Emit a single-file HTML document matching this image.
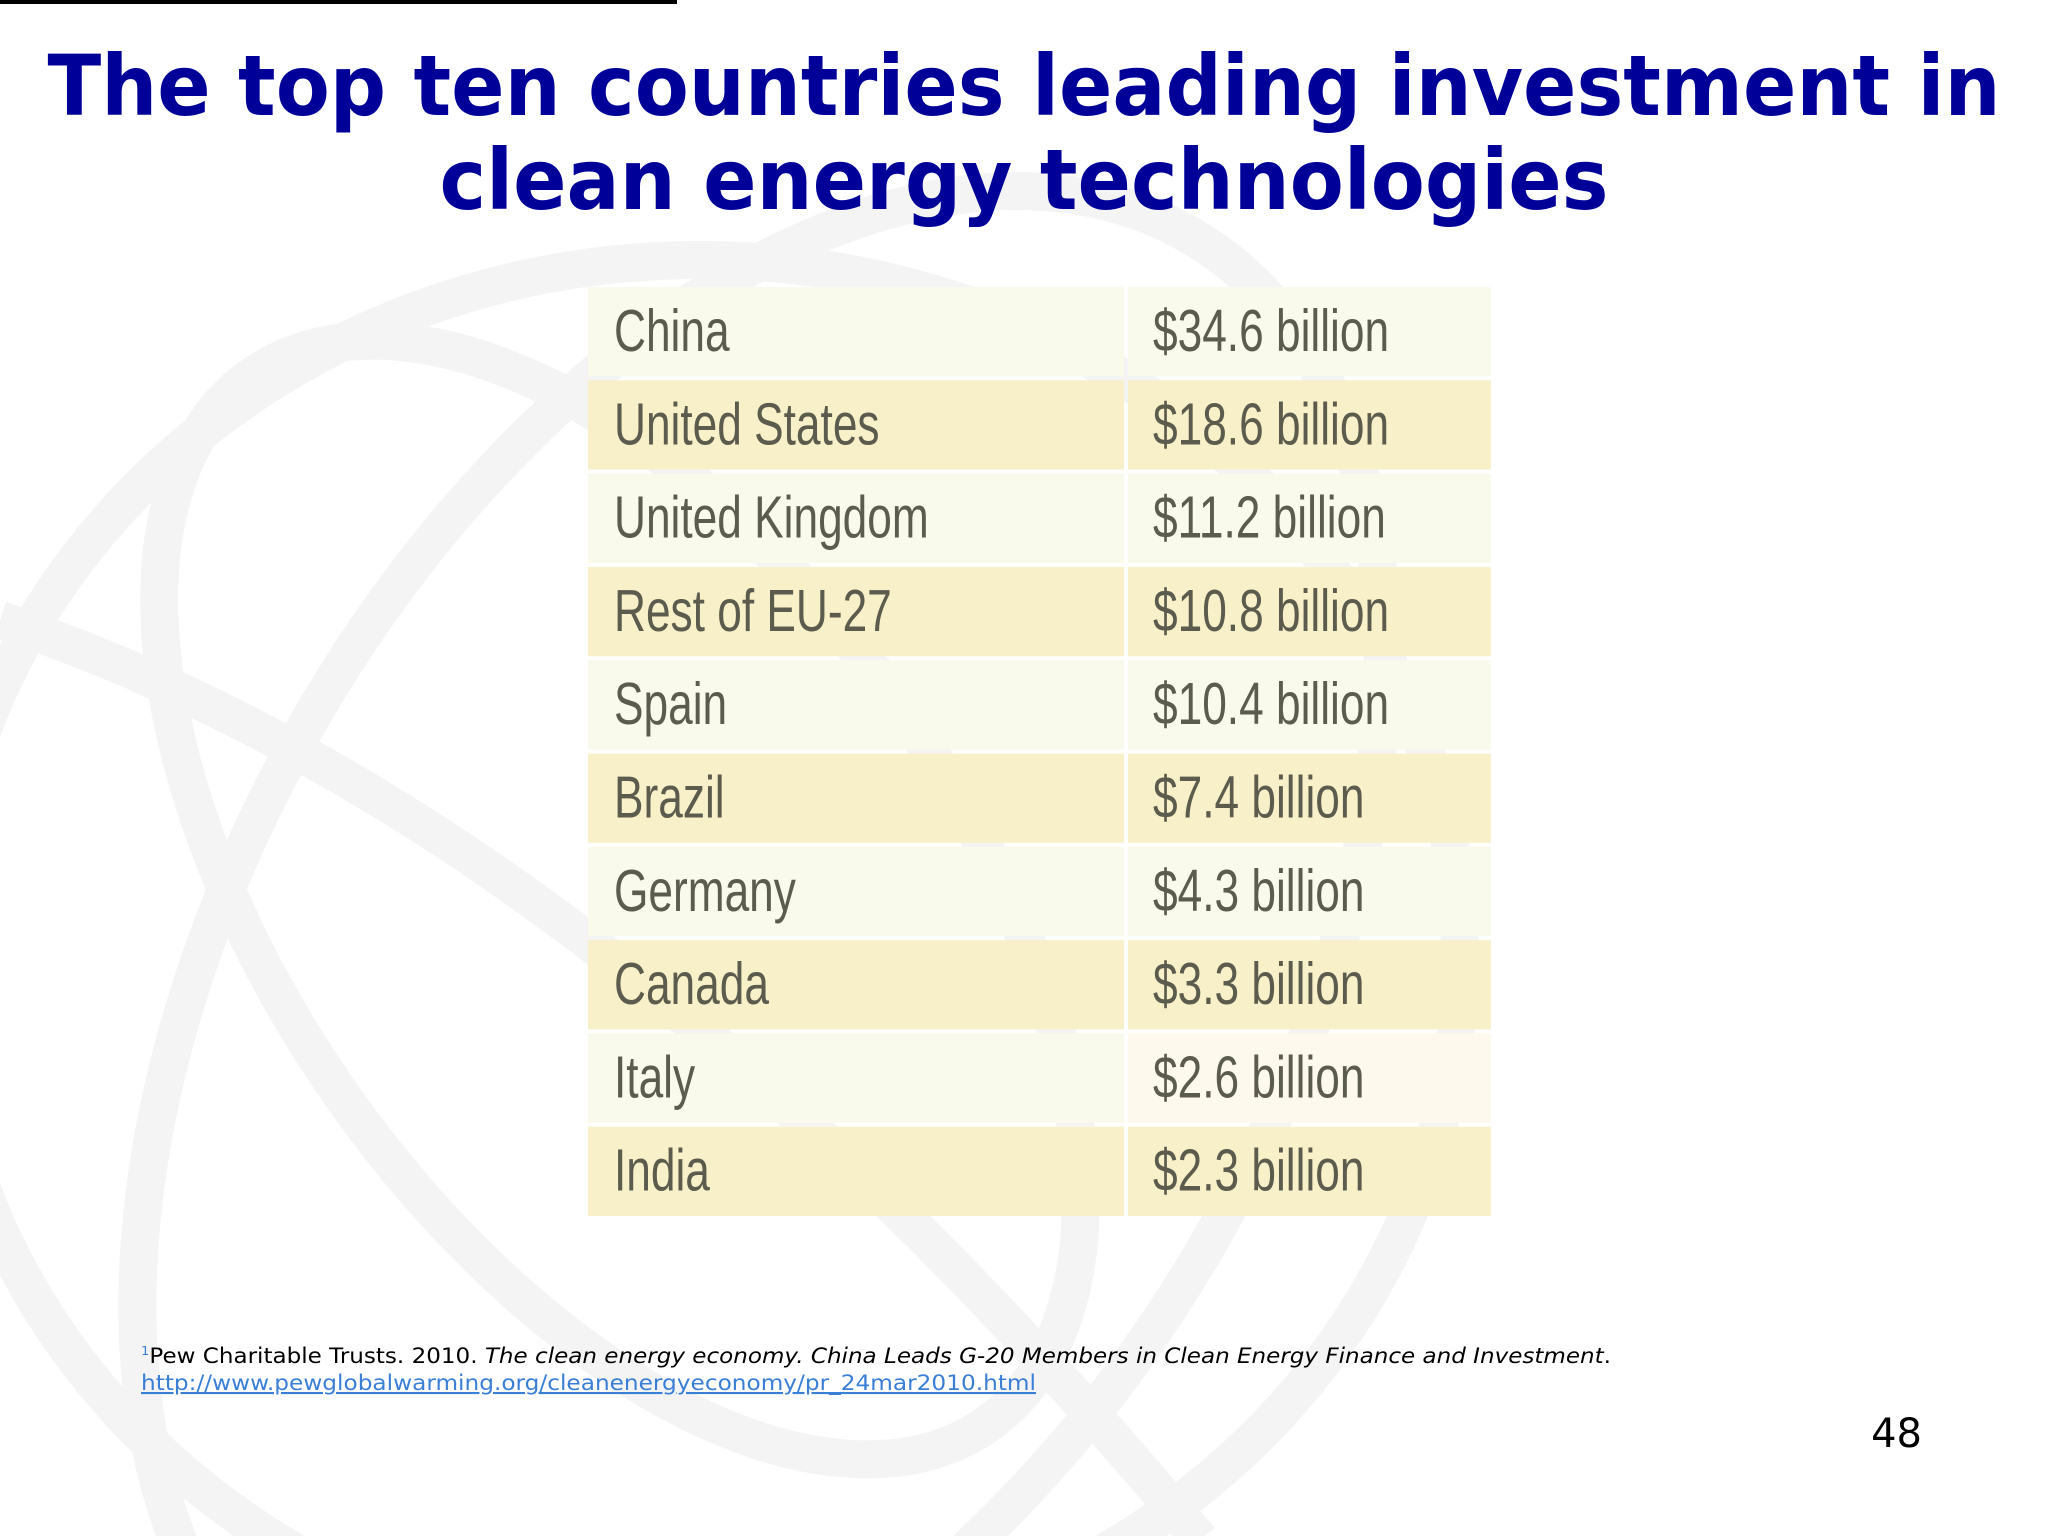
<!DOCTYPE html>
<html><head><meta charset="utf-8">
<style>
html,body{margin:0;padding:0;background:#fff;overflow:hidden;}
#page{position:relative;width:2048px;height:1536px;overflow:hidden;background:#fff;font-family:"DejaVu Sans","Liberation Sans",sans-serif;}
svg{position:absolute;left:0;top:0;overflow:hidden;}
</style></head>
<body>
<div id="page">
<svg width="2048" height="1536" viewBox="0 0 2048 1536">
  <g fill="none" stroke="#f4f4f4" stroke-width="38">
    <ellipse cx="700" cy="960" rx="760" ry="700"/>
    <ellipse cx="620" cy="900" rx="340" ry="640" transform="rotate(-35 620 900)"/>
    <ellipse cx="760" cy="980" rx="520" ry="860" transform="rotate(30 760 980)"/>
    <path d="M0 620 Q600 820 1200 1540"/>
  </g>
  <rect x="0" y="0" width="677" height="4" fill="#000"/>
  <text x="1024" y="115" text-anchor="middle" textLength="1953" lengthAdjust="spacingAndGlyphs" font-family="DejaVu Sans, sans-serif" font-weight="bold" font-size="84" fill="#000099">The top ten countries leading investment in</text>
  <text x="1024" y="209" text-anchor="middle" textLength="1169" lengthAdjust="spacingAndGlyphs" font-family="DejaVu Sans, sans-serif" font-weight="bold" font-size="84" fill="#000099">clean energy technologies</text>
  <g id="table"></g>
  <text x="141" y="1363" font-family="DejaVu Sans, sans-serif" font-size="21" fill="#000" textLength="1470" lengthAdjust="spacingAndGlyphs"><tspan font-size="12" fill="#3a7fd6" dy="-8">1</tspan><tspan dy="8">Pew Charitable Trusts. 2010. </tspan><tspan font-style="italic">The clean energy economy. China Leads G-20 Members in Clean Energy Finance and Investment</tspan><tspan>.</tspan></text>
  <text x="141" y="1390" font-family="DejaVu Sans, sans-serif" font-size="21" fill="#3a7fd6" text-decoration="underline" textLength="895" lengthAdjust="spacingAndGlyphs">http://www.pewglobalwarming.org/cleanenergyeconomy/pr_24mar2010.html</text>
  <text x="1922" y="1447" text-anchor="end" font-family="DejaVu Sans, sans-serif" font-size="40" fill="#000">48</text>
</svg>
</div>
<script>
const countries = ["China","United States","United Kingdom","Rest of EU-27","Spain","Brazil","Germany","Canada","Italy","India"];
const values = [34.6,18.6,11.2,10.8,10.4,7.4,4.3,3.3,2.6,2.3];
const valueSuffix = " billion";

const NS = "http://www.w3.org/2000/svg";
const g = document.getElementById('table');
const top0 = 287, rowH = 93.3, x0 = 588, xSplit = 1126, x1 = 1491;
function rowY(i){ return top0 + i*rowH; }
function mk(tag, attrs){ const e = document.createElementNS(NS, tag); for (const k in attrs) e.setAttribute(k, attrs[k]); return e; }
countries.forEach((c, i) => {
  const y = rowY(i);
  const fill = i % 2 === 0 ? "#fafaec" : "#f8f0c9";
  const r1 = mk('rect', {x:x0, y:y, width:xSplit-2-x0, height:rowH-4, fill:fill});
  
  
  g.appendChild(r1);
  const r2 = mk('rect', {x:xSplit+2, y:y, width:x1-xSplit-2, height:rowH-4, fill:(i===8?"#fdf9ec":fill)});
  
  
  g.appendChild(r2);
  const t1 = mk('text', {x:0, y:0, 'font-family':'Liberation Sans Narrow, Liberation Sans, sans-serif', 'font-size':'59', fill:'#5c5c4e', transform:'translate(614 ' + (y+64) + ') scale(0.75 1)'});
  t1.textContent = c;
  
  
  g.appendChild(t1);
  const t2 = mk('text', {x:0, y:0, 'font-family':'Liberation Sans Narrow, Liberation Sans, sans-serif', 'font-size':'59', fill:'#5c5c4e', transform:'translate(1153 ' + (y+64) + ') scale(0.75 1)'});
  t2.textContent = "$" + values[i].toFixed(1) + valueSuffix;
  
  
  g.appendChild(t2);
});
</script>
</body></html>
